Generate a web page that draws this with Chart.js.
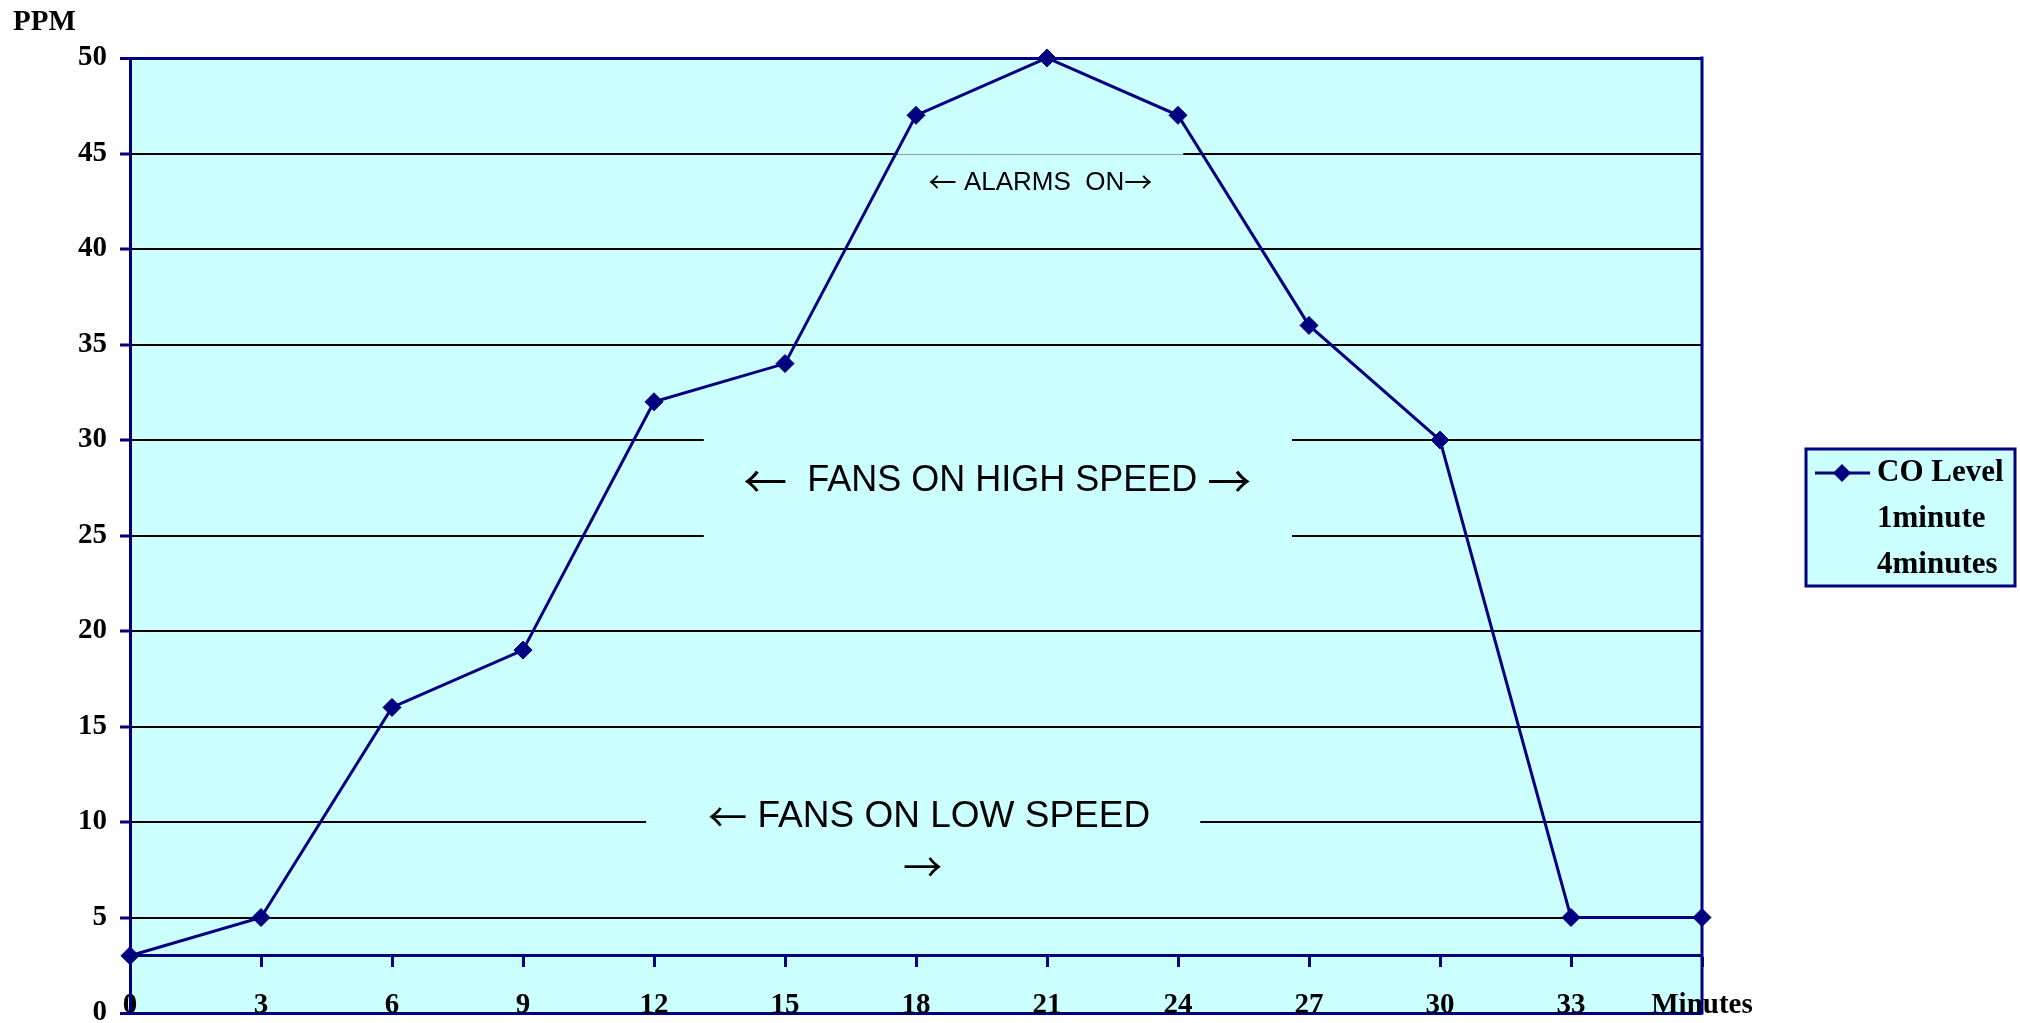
<!DOCTYPE html>
<html>
<head>
<meta charset="utf-8">
<title>CO Level</title>
<script src="https://cdn.jsdelivr.net/npm/chart.js@4.4.1/dist/chart.umd.min.js"></script>
<style>
  html, body { margin: 0; padding: 0; background: #fff; }
  canvas { display: block; }
</style>
</head>
<body>
<canvas id="co-chart" width="2020" height="1023"></canvas>
<script>
// Chart data
const minuteLabels = ['0', '3', '6', '9', '12', '15', '18', '21', '24', '27', '30', '33', 'Minutes'];
const coLevel = [3, 5, 16, 19, 32, 34, 47, 50, 47, 36, 30, 5, 5];
const seriesNames = ['CO Level', '1minute', '4minutes'];
const ppmMin = 0;
const ppmMax = 50;
const ppmStep = 5;

const navy = '#000080';
const plotFill = '#ccffff';
const serif = '"Liberation Serif", "Times New Roman", serif';
const sans = '"Liberation Sans", Arial, sans-serif';
const arrowFont = '"Noto Sans CJK JP", "DejaVu Sans", sans-serif';

// Text boxes laid over the plot (x in category index, y in PPM)
const notes = [
  { box: [5.86, 8.04, 45.12, 42.5], edge: 45, size: 26, arrow: 1.08,
    lines: [{ text: '\u2190 ALARMS  ON\u2192', x: 6.95, y: 43.6 }] },
  { box: [4.38, 8.87, 31, 24], size: 36, arrow: 1.22,
    lines: [{ text: '\u2190  FANS ON HIGH SPEED \u2192', x: 6.62, y: 28.0 }] },
  { box: [3.94, 8.17, 11.2, 7.2], size: 37, arrow: 1.06,
    lines: [{ text: '\u2190 FANS ON LOW SPEED', x: 6.10, y: 10.42 },
            { text: '\u2192', x: 6.05, y: 7.8 }] }
];

// arrows come from a CJK face (wide, thin), the rest from the sans face
function drawMixed(ctx, text, cx, cy, size, arrowScale) {
  const isArrow = s => /[\u2190\u2192]/.test(s);
  const runs = text.split(/([\u2190\u2192])/).filter(s => s.length);
  const aSize = size * arrowScale;
  const fontFor = s => isArrow(s) ? aSize + 'px ' + arrowFont : size + 'px ' + sans;
  let total = 0;
  runs.forEach(s => { ctx.font = fontFor(s); total += ctx.measureText(s).width; });
  let px = cx - total / 2;
  ctx.textAlign = 'left';
  ctx.textBaseline = 'alphabetic';
  runs.forEach(s => {
    ctx.font = fontFor(s);
    const base = isArrow(s) ? cy + aSize * 0.46 : cy + size * 0.358;
    ctx.fillText(s, px, base);
    px += ctx.measureText(s).width;
  });
}

const overlay = {
  id: 'overlay',
  beforeDraw(chart) {
    const { ctx, chartArea: a } = chart;
    ctx.save();
    ctx.fillStyle = plotFill;
    ctx.fillRect(a.left, a.top, a.right - a.left, a.bottom - a.top);
    ctx.restore();
  },
  beforeDatasetsDraw(chart) {
    const { ctx, chartArea: a } = chart;
    const x = chart.scales.x, y = chart.scales.y;
    ctx.save();
    // right border of the plot
    ctx.strokeStyle = navy;
    ctx.lineWidth = 3;
    ctx.beginPath();
    ctx.moveTo(a.right, a.top - 1.5);
    ctx.lineTo(a.right, a.bottom + 1.5);
    ctx.stroke();

    notes.forEach(n => {
      const l = x.getPixelForValue(n.box[0]), r = x.getPixelForValue(n.box[1]);
      const t = y.getPixelForValue(n.box[2]), b = y.getPixelForValue(n.box[3]);
      ctx.fillStyle = plotFill;
      ctx.fillRect(l, t, r - l, b - t);
      if (n.edge !== undefined) {
        const ey = Math.round(y.getPixelForValue(n.edge)) + 0.5;
        ctx.strokeStyle = '#999';
        ctx.lineWidth = 1;
        ctx.beginPath();
        ctx.moveTo(l, ey);
        ctx.lineTo(r, ey);
        ctx.stroke();
      }
      ctx.fillStyle = '#000';
      n.lines.forEach(line => {
        drawMixed(ctx, line.text, x.getPixelForValue(line.x), y.getPixelForValue(line.y), n.size, n.arrow);
      });
    });
    ctx.restore();
  },
  afterDraw(chart) {
    const { ctx } = chart;
    ctx.save();
    // axis unit
    ctx.fillStyle = '#000';
    ctx.font = 'bold 29px ' + serif;
    ctx.textAlign = 'left';
    ctx.textBaseline = 'alphabetic';
    ctx.fillText('PPM', 13, 30);

    // legend
    const bx = 1806, by = 449, bw = 209, bh = 137;
    ctx.fillStyle = plotFill;
    ctx.fillRect(bx, by, bw, bh);
    ctx.strokeStyle = navy;
    ctx.lineWidth = 3;
    ctx.strokeRect(bx, by, bw, bh);

    const rowY = [473, 519, 565];
    chart.data.datasets.forEach((ds, i) => {
      const ry = rowY[i];
      if (ds.data.length) {
        ctx.strokeStyle = ds.borderColor;
        ctx.lineWidth = 3;
        ctx.beginPath();
        ctx.moveTo(1815, ry);
        ctx.lineTo(1870, ry);
        ctx.stroke();
        ctx.fillStyle = ds.borderColor;
        ctx.beginPath();
        ctx.moveTo(1842, ry - 9);
        ctx.lineTo(1851, ry);
        ctx.lineTo(1842, ry + 9);
        ctx.lineTo(1833, ry);
        ctx.closePath();
        ctx.fill();
      }
      ctx.fillStyle = '#000';
      ctx.font = 'bold 31px ' + serif;
      ctx.textAlign = 'left';
      ctx.textBaseline = 'middle';
      ctx.fillText(ds.label, 1877, ry);
    });
    ctx.restore();
  }
};

const edgeValue = v => v === ppmMin || v === ppmMax;

new Chart(document.getElementById('co-chart'), {
  type: 'line',
  data: {
    labels: minuteLabels,
    datasets: [
      {
        label: seriesNames[0],
        data: coLevel,
        borderColor: navy,
        backgroundColor: navy,
        borderWidth: 3,
        pointStyle: 'rectRot',
        pointRadius: 9,
        pointHoverRadius: 9,
        pointBackgroundColor: navy,
        pointBorderColor: navy,
        pointBorderWidth: 1,
        tension: 0,
        clip: false
      },
      { label: seriesNames[1], data: [], showLine: false, pointRadius: 0 },
      { label: seriesNames[2], data: [], showLine: false, pointRadius: 0 }
    ]
  },
  options: {
    responsive: false,
    animation: false,
    events: [],
    layout: { padding: { left: 0, right: 318, top: 58, bottom: 10 } },
    plugins: {
      legend: { display: false },
      tooltip: { enabled: false }
    },
    scales: {
      x: {
        type: 'category',
        position: { y: 3 },
        offset: false,
        grid: {
          drawOnChartArea: false,
          drawTicks: true,
          tickLength: 10,
          tickColor: navy,
          tickWidth: 3
        },
        border: { color: navy, width: 3 },
        ticks: {
          autoSkip: false,
          maxRotation: 0,
          padding: 22,
          color: '#000',
          font: { family: serif, size: 29, weight: 'bold' }
        },
        afterFit(scale) {
          scale.paddingLeft = 0;
          scale.paddingRight = 0;
        }
      },
      y: {
        min: ppmMin,
        max: ppmMax,
        grid: {
          color: c => edgeValue(c.tick.value) ? navy : '#000',
          lineWidth: c => edgeValue(c.tick.value) ? 3 : 2,
          tickColor: navy,
          tickLength: 10,
          tickWidth: 3
        },
        border: { color: navy, width: 3 },
        ticks: {
          stepSize: ppmStep,
          padding: 13,
          color: '#000',
          font: { family: serif, size: 29, weight: 'bold' }
        },
        afterFit(scale) {
          scale.width = 130;
          scale.paddingTop = 0;
          scale.paddingBottom = 0;
        }
      }
    }
  },
  plugins: [overlay]
});
</script>
</body>
</html>
